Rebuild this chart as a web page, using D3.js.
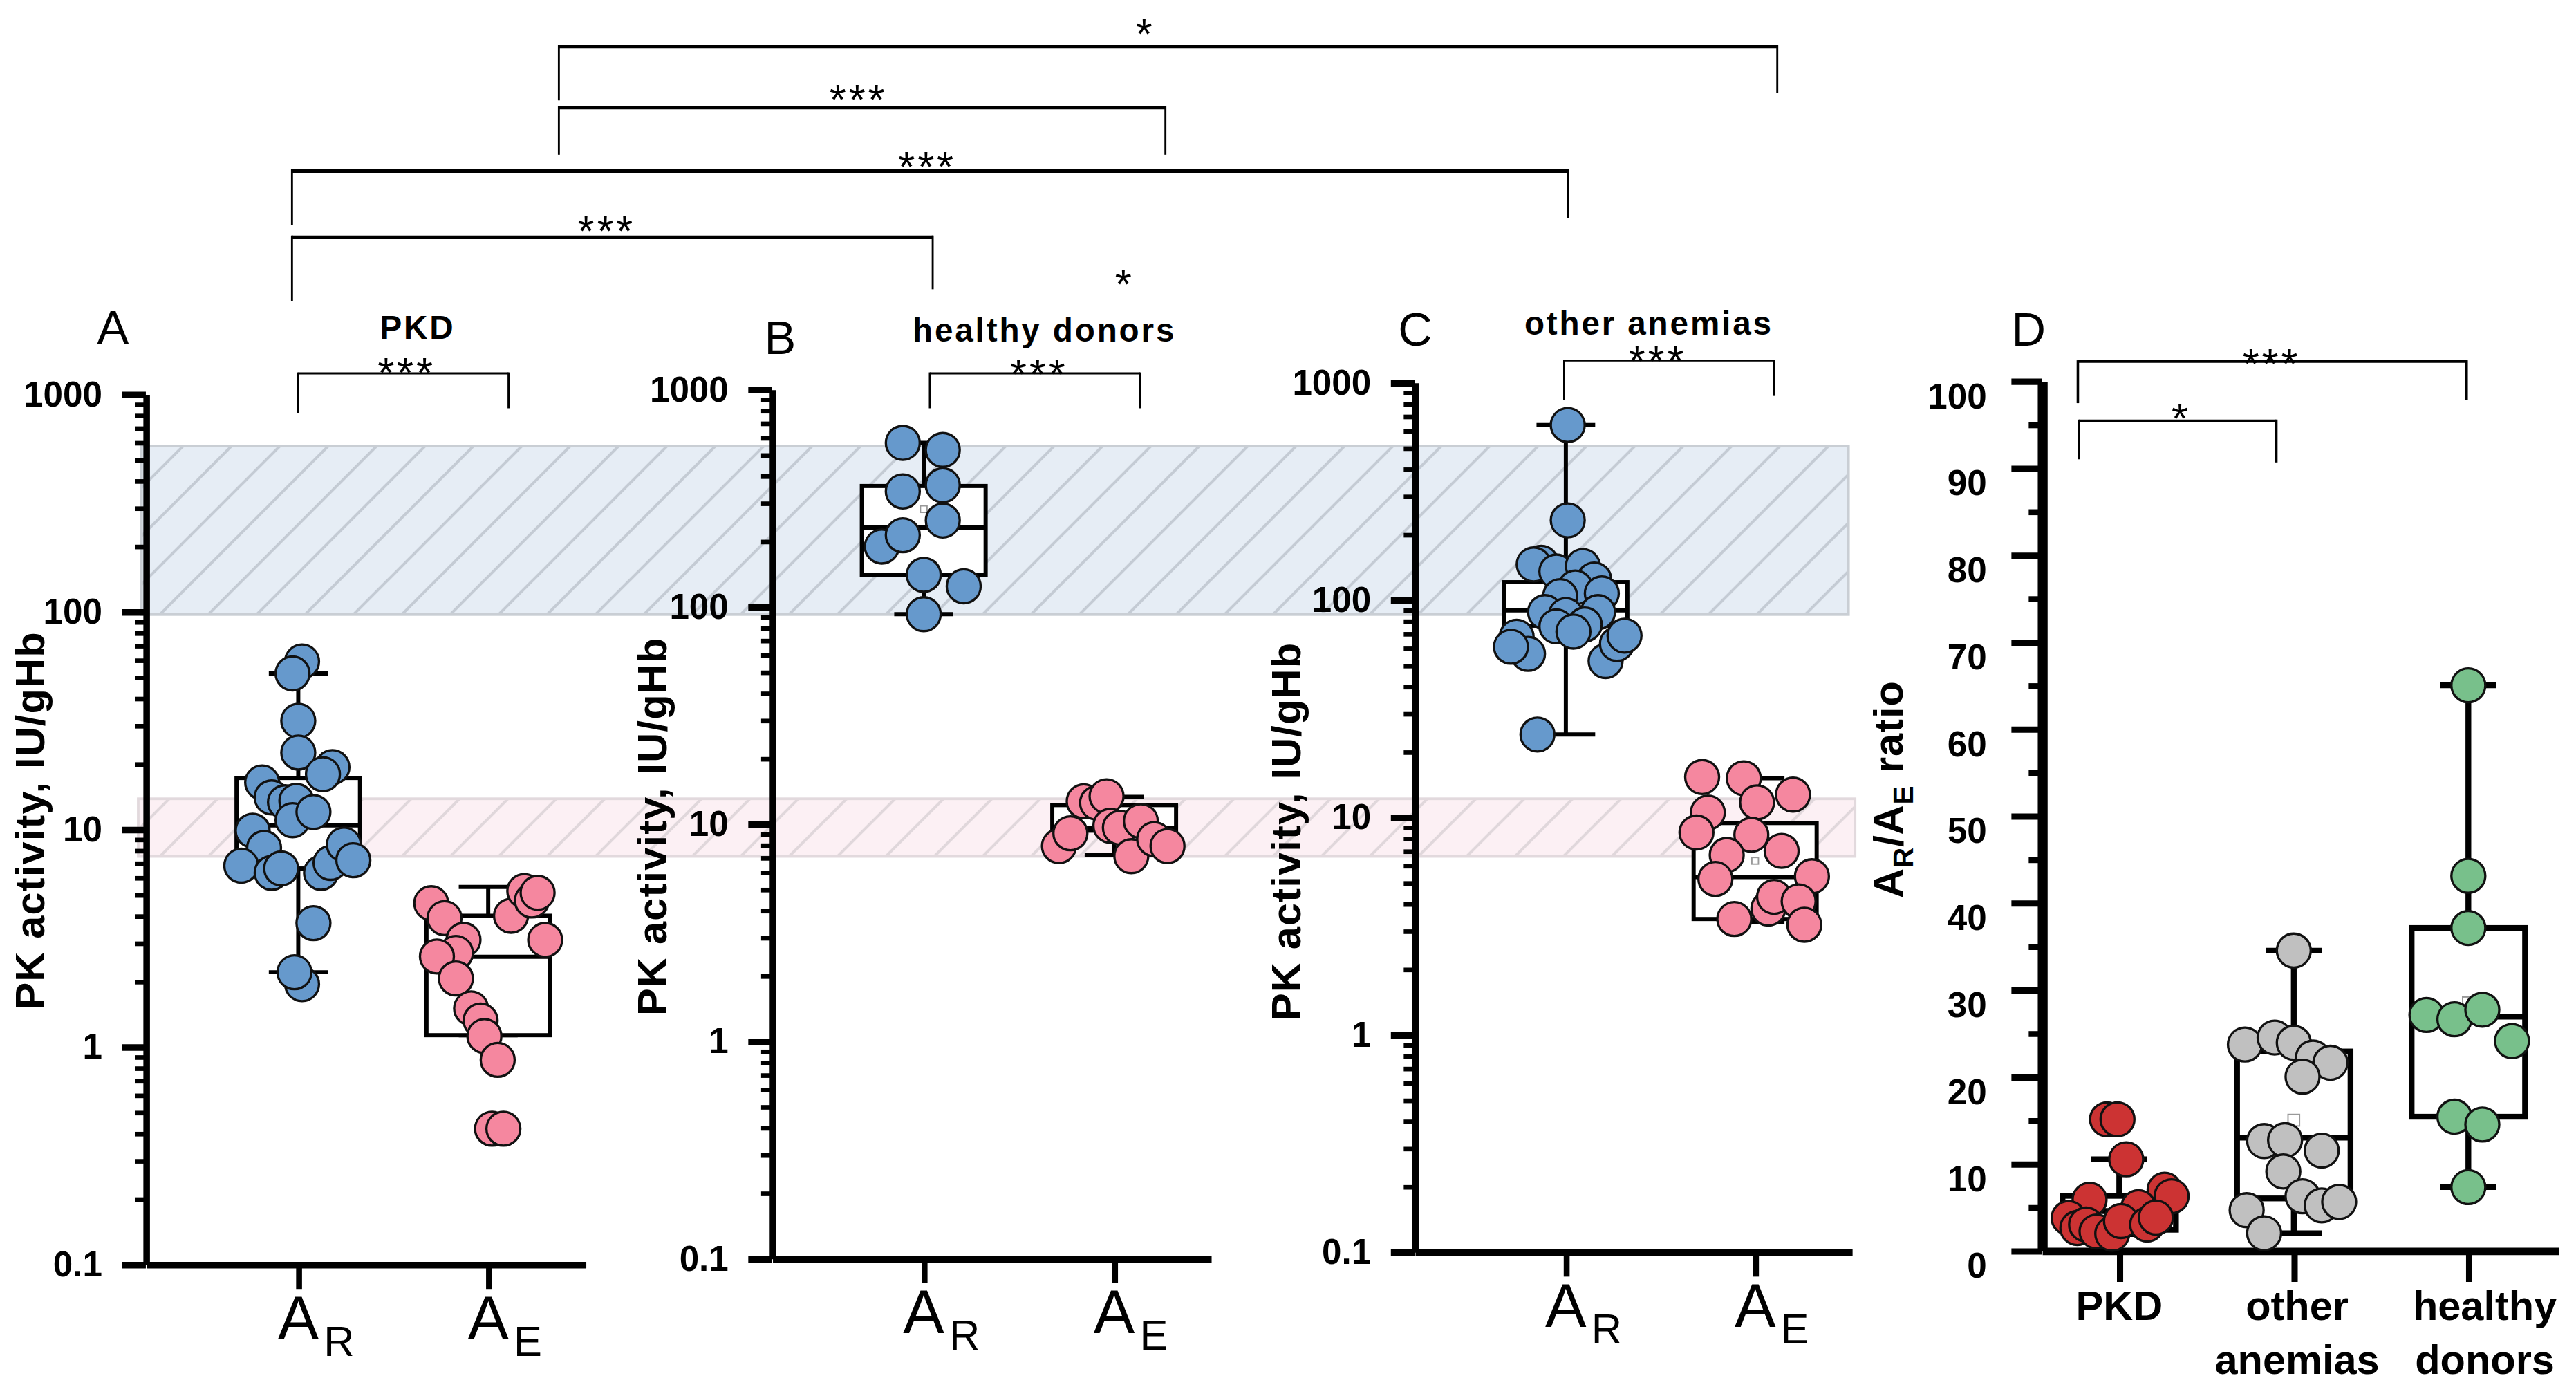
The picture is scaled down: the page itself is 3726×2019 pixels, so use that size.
<!DOCTYPE html>
<meta charset="utf-8">
<script src="https://d3js.org/d3.v7.min.js"></script>
<style>
  body { margin: 0; background: #fff; }
</style>
<div id="chart"></div>
<script>

// ---------------- data ----------------
// each point: [category position (0 = A_R, 1 = A_E, with jitter), PK activity IU/gHb]
var pkdR = [[0.02,59],[-0.03,52],[0.00,31.5],[0.00,22.5],[0.18,19.3],[0.13,17.9],[-0.19,16.4],[-0.14,14],
            [-0.07,13.3],[-0.01,13.5],[-0.03,11],[0.08,12],[-0.24,9.85],[-0.18,8.2],[-0.30,6.8],[-0.14,6.3],
            [-0.09,6.6],[0.12,6.3],[0.17,7.0],[0.24,8.5],[0.29,7.2],[0.08,3.7],[0.02,1.94],[-0.02,2.2]];
var pkdE = [[0.70,4.57],[0.77,3.9],[0.87,3.1],[0.83,2.7],[0.73,2.6],[0.83,2.06],[0.91,1.5],[0.96,1.32],
            [0.98,1.12],[1.05,0.87],[1.02,0.42],[1.08,0.42],[1.12,4.0],[1.19,5.2],[1.23,4.7],[1.26,5.1],[1.30,3.1]];
var hdR  = [[-0.11,567],[0.10,526],[-0.11,339],[0.10,362],[0.10,249],[-0.22,189],[-0.11,213],[0,140],[0.21,124],[0,92.3]];
var hdE  = [[0.71,7.9],[0.77,9.05],[0.84,12.7],[0.91,12.5],[0.96,13.4],[0.98,9.8],[1.03,9.6],[1.14,10.3],
            [1.09,7.1],[1.21,8.5],[1.28,7.9]];
var oaR  = [[0.01,637],[0.01,232],[-0.13,148],[-0.17,145.5],[-0.05,135],[0.09,143],[0.15,124],[0.05,114],
            [-0.03,104],[0.19,107],[-0.11,87.8],[0.00,85],[0.17,87.8],[-0.05,75.5],[0.10,77],[0.04,71.4],
            [-0.26,67.6],[-0.20,56.4],[-0.29,60.8],[0.21,52.3],[0.27,62.7],[0.31,68.4],[-0.15,24.0]];
var oaE  = [[0.72,15.3],[0.94,15.1],[1.01,11.7],[1.20,12.7],[0.75,10.5],[0.69,8.5],[0.98,8.3],[0.85,6.7],
            [1.14,7.0],[0.79,5.2],[1.30,5.35],[1.07,3.8],[1.10,4.3],[1.23,4.1],[0.89,3.4],[1.26,3.2]];

// panel D: A_R/A_E ratio, category 0 = PKD, 1 = other anemias, 2 = healthy donors
var ratioPKD     = [[-0.07,15.1],[-0.01,15.1],[0.04,10.5],[0.26,7.0],[0.30,6.25],[-0.17,5.85],[0.11,5.0],
                    [-0.29,3.75],[-0.24,2.6],[-0.19,3.0],[-0.13,2.2],[-0.04,1.95],[0.01,3.4],[0.16,3.0],[0.21,3.8]];
var ratioOther   = [[1.00,34.5],[0.72,23.7],[0.89,24.5],[1.00,23.9],[1.11,22.2],[1.21,21.6],[1.05,20.0],
                    [0.83,12.6],[0.95,12.7],[1.16,11.5],[0.94,9.1],[1.05,6.25],[1.16,5.2],[1.26,5.6],
                    [0.73,4.65],[0.83,2.0]];
var ratioHealthy = [[2.00,65.0],[2.00,43.1],[2.00,37.1],[1.76,27.1],[1.92,26.6],[2.08,27.7],[2.25,24.1],
                    [1.92,15.4],[2.08,14.5],[2.00,7.3]];

// box plots: [min, q1, median, q3, max]
var pkdBoxR = [2.2, 6.6, 10.4, 17.2, 52];
var pkdBoxE = [1.13, 1.13, 2.59, 4.0, 5.43];
var hdBoxR  = [92.3, 140, 231, 359, 567];
var hdBoxE  = [7.2, 9.3, 9.6, 12.2, 13.3];
var oaBoxR  = [24.0, 76, 89.4, 120.5, 637];
var oaBoxE  = [3.3, 3.4, 5.3, 9.4, 15.1];
var ratioBoxes = [[1.9, 2.4, 4.55, 6.3, 10.5], [2.0, 6.0, 13.0, 22.9, 34.5], [7.3, 15.4, 26.9, 37.1, 65.0]];

// means (shown as small squares where visible)
var hdMeans    = [281, null];
var oaMeans    = [null, 6.3];
var ratioMeans = [null, 15.0, 28.5];

// reference ranges (IU/gHb)
var normalR = [97, 578];
var normalE = [7.5, 13.8];

var logTicks = [0.1, 1, 10, 100, 1000];
var logTickLabels = ["0.1", "1", "10", "100", "1000"];
var ratioTicks = [0, 10, 20, 30, 40, 50, 60, 70, 80, 90, 100];
var ratioMinor = [5, 15, 25, 35, 45, 55, 65, 75, 85, 95];
var ratioCats = [["PKD"], ["other", "anemias"], ["healthy", "donors"]];

// ---------------- layout ----------------
var W = 1565, H = 848;
var FONT = "'Liberation Sans', Arial, Helvetica, sans-serif";
var blue = "#6699cc", pink = "#f5879f", red = "#cc3333", grey = "#c0c0c0", green = "#78c08b";

var layout = {
  A: {ax: 88.6,  top: 239.4, bot: 768,   t: [181.2, 296.6], xEnd: 355.7, letter: [59, 208.7],    title: [253.7, 205.7], ylab: [26.8, 498.5]},
  B: {ax: 469.1, top: 236.5, bot: 764.4, t: [561.2, 676.9], xEnd: 735.6, letter: [464.3, 215],   title: [634.5, 207.4], ylab: [405, 502]},
  C: {ax: 859.5, top: 232.3, bot: 760.5, t: [951.3, 1066.3], xEnd: 1125, letter: [849.4, 209.8], title: [1001.7, 203.4], ylab: [790.2, 505]},
  D: {ax: 1240.5, top: 231.4, bot: 759.7, t: [1287.5, 1393.55], xEnd: 1554.4, letter: [1222, 210.2], ylab: [1156, 479.5]}
};

var svg = d3.select("#chart").append("svg")
    .attr("width", 3726)
    .attr("height", 2019)
    .attr("viewBox", "0 0 " + W + " " + H)
    .style("font-family", FONT);

svg.append("rect").attr("width", W).attr("height", H).attr("fill", "#fff");

// hatch patterns for the reference bands
var defs = svg.append("defs");
function hatch(id, bg, line) {
  var s = 29.4;
  var p = defs.append("pattern").attr("id", id)
      .attr("patternUnits", "userSpaceOnUse")
      .attr("width", s).attr("height", s);
  p.append("rect").attr("width", s).attr("height", s).attr("fill", bg);
  p.append("path")
      .attr("d", "M-4,4 L4,-4 M0," + s + " L" + s + ",0 M" + (s - 4) + "," + (s + 4) + " L" + (s + 4) + "," + (s - 4))
      .attr("stroke", line).attr("stroke-width", 1.7);
}
hatch("hatchBlue", "#e6edf5", "#c4cbd4");
hatch("hatchPink", "#fcf0f4", "#e0d7db");

// scales for every panel
var scales = {};
["A", "B", "C"].forEach(function(k) {
  var L = layout[k];
  scales[k] = {
    x: d3.scaleLinear().domain([0, 1]).range(L.t),
    y: d3.scaleLog().domain([0.1, 1000]).range([L.bot, L.top])
  };
});
scales.D = {
  x: d3.scaleLinear().domain([0, 1]).range(layout.D.t),
  y: d3.scaleLinear().domain([0, 100]).range([layout.D.bot, layout.D.top])
};

// reference bands (one strip across panels A-C, on the panel A scale)
var yA = scales.A.y;
svg.append("rect")
    .attr("x", 86).attr("width", 1123 - 86)
    .attr("y", yA(normalR[1])).attr("height", yA(normalR[0]) - yA(normalR[1]))
    .attr("fill", "url(#hatchBlue)").attr("stroke", "#c9ced4").attr("stroke-width", 1.6);
svg.append("rect")
    .attr("x", 84).attr("width", 1127 - 84)
    .attr("y", yA(normalE[1])).attr("height", yA(normalE[0]) - yA(normalE[1]))
    .attr("fill", "url(#hatchPink)").attr("stroke", "#e2d9dd").attr("stroke-width", 1.6);

// ---------------- helpers ----------------
function styleAxis(g, sw, fs) {
  g.attr("font-family", FONT).attr("font-size", fs).attr("font-weight", "bold");
  g.select(".domain").attr("stroke", "#000").attr("stroke-width", sw);
  g.selectAll(".tick line").attr("stroke", "#000");
  g.selectAll(".tick text").attr("fill", "#000");
}

function drawBox(g, x, y, cx, s, sw, halfW, capHalf) {
  var mn = s[0], q1 = s[1], md = s[2], q3 = s[3], mx = s[4];
  function line(x1, y1, x2, y2) {
    g.append("line").attr("x1", x1).attr("y1", y1).attr("x2", x2).attr("y2", y2)
      .attr("stroke", "#000").attr("stroke-width", sw);
  }
  line(x(cx), y(q3), x(cx), y(mx));
  line(x(cx), y(q1), x(cx), y(mn));
  line(x(cx - capHalf), y(mx), x(cx + capHalf), y(mx));
  line(x(cx - capHalf), y(mn), x(cx + capHalf), y(mn));
  g.append("rect")
      .attr("x", x(cx - halfW)).attr("width", x(cx + halfW) - x(cx - halfW))
      .attr("y", y(q3)).attr("height", y(q1) - y(q3))
      .attr("fill", "#fff").attr("stroke", "#000").attr("stroke-width", sw);
  line(x(cx - halfW), y(md), x(cx + halfW), y(md));
}

function drawMean(g, x, y, cx, v, size) {
  if (v == null) return;
  g.append("rect")
      .attr("x", x(cx) - size / 2).attr("y", y(v) - size / 2)
      .attr("width", size).attr("height", size)
      .attr("fill", "#fff").attr("stroke", "#999").attr("stroke-width", 0.8);
}

function drawPoints(g, x, y, data, color) {
  g.selectAll(null)
    .data(data)
    .join("circle")
      .attr("cx", function(d) { return x(d[0]); })
      .attr("cy", function(d) { return y(d[1]); })
      .attr("r", 10.3)
      .attr("fill", color)
      .attr("stroke", "#111")
      .attr("stroke-width", 1.4);
}

function stars(txt, cx, bottom) {
  // asterisk glyph sits about 0.44em above the baseline
  svg.append("text")
      .attr("x", cx).attr("y", bottom + 11.4)
      .attr("text-anchor", "middle")
      .attr("font-size", 26)
      .attr("letter-spacing", txt.length > 1 ? 1.6 : 0)
      .text(txt);
}

function bracket(x1, x2, y, leg1, leg2, hw, lw) {
  svg.append("line").attr("x1", x1).attr("x2", x2).attr("y1", y).attr("y2", y)
      .attr("stroke", "#000").attr("stroke-width", hw);
  svg.append("line").attr("x1", x1).attr("x2", x1).attr("y1", y - hw / 2).attr("y2", leg1)
      .attr("stroke", "#000").attr("stroke-width", lw);
  svg.append("line").attr("x1", x2).attr("x2", x2).attr("y1", y - hw / 2).attr("y2", leg2)
      .attr("stroke", "#000").attr("stroke-width", lw);
}

// ---------------- panels A, B, C (log scale) ----------------
var logPanels = [
  {key: "A", title: "PKD",            R: pkdR, E: pkdE, boxR: pkdBoxR, boxE: pkdBoxE, means: [null, null]},
  {key: "B", title: "healthy donors", R: hdR,  E: hdE,  boxR: hdBoxR,  boxE: hdBoxE,  means: hdMeans},
  {key: "C", title: "other anemias",  R: oaR,  E: oaE,  boxR: oaBoxR,  boxE: oaBoxE,  means: oaMeans}
];

var minorLog = [];
[0.1, 1, 10, 100].forEach(function(d) {
  for (var k = 2; k < 10; k++) minorLog.push(+(k * d).toPrecision(3));
});

logPanels.forEach(function(p) {
  var L = layout[p.key], x = scales[p.key].x, y = scales[p.key].y;
  var g = svg.append("g");

  // x axis
  var xs = d3.scaleLinear().domain([x.invert(L.ax), x.invert(L.xEnd)]).range([L.ax, L.xEnd]);
  var gx = g.append("g")
      .attr("transform", "translate(0," + L.bot + ")")
      .call(d3.axisBottom(xs).tickValues([0, 1]).tickSize(15).tickSizeOuter(0).tickFormat(function() { return ""; }));
  styleAxis(gx, 4, 20);
  gx.selectAll(".tick line").attr("stroke-width", 3.6);

  // y axis, minor then major ticks
  var gm = g.append("g")
      .attr("transform", "translate(" + L.ax + ",0)")
      .call(d3.axisLeft(y).tickValues(minorLog).tickSize(6.7).tickFormat(function() { return ""; }));
  gm.select(".domain").remove();
  gm.selectAll(".tick line").attr("stroke", "#000").attr("stroke-width", 2.8);

  var gy = g.append("g")
      .attr("transform", "translate(" + L.ax + ",0)")
      .call(d3.axisLeft(y).tickValues(logTicks).tickSize(14.5).tickSizeOuter(0).tickPadding(12)
        .tickFormat(function(d, i) { return logTickLabels[i]; }));
  styleAxis(gy, 4, 21.5);
  gy.selectAll(".tick line").attr("stroke-width", 4);

  // category labels A_R, A_E
  ["R", "E"].forEach(function(sub, i) {
    var t = g.append("text").attr("x", x(i)).attr("y", L.bot + 45.4)
        .attr("text-anchor", "middle").attr("font-size", 37.5).text("A");
    g.append("text").attr("x", x(i) + 15.5).attr("y", L.bot + 55.5)
        .attr("font-size", 25.8).text(sub);
  });

  // boxes, means, points
  drawBox(g, x, y, 0, p.boxR, 2.5, 0.325, 0.155);
  drawBox(g, x, y, 1, p.boxE, 2.5, 0.325, 0.155);
  drawMean(g, x, y, 0, p.means[0], 4);
  drawMean(g, x, y, 1, p.means[1], 4);
  drawPoints(g, x, y, p.R, blue);
  drawPoints(g, x, y, p.E, pink);

  // panel letter, title, y label
  svg.append("text").attr("x", L.letter[0]).attr("y", L.letter[1])
      .attr("font-size", 28.8).text(p.key);
  svg.append("text").attr("x", L.title[0]).attr("y", L.title[1])
      .attr("text-anchor", "middle").attr("font-size", 20).attr("font-weight", "bold")
      .attr("letter-spacing", 1.2).text(p.title);
  svg.append("text")
      .attr("transform", "translate(" + L.ylab[0] + "," + L.ylab[1] + ") rotate(-90)")
      .attr("text-anchor", "middle").attr("font-size", 25).attr("font-weight", "bold")
      .attr("letter-spacing", 0.5)
      .text("PK activity, IU/gHb");
});

// ---------------- panel D (ratio) ----------------
(function() {
  var L = layout.D, x = scales.D.x, y = scales.D.y;
  var g = svg.append("g");

  var xs = d3.scaleLinear().domain([x.invert(L.ax), x.invert(L.xEnd)]).range([L.ax, L.xEnd]);
  var gx = g.append("g")
      .attr("transform", "translate(0," + L.bot + ")")
      .call(d3.axisBottom(xs).tickValues([0, 1, 2]).tickSize(19).tickSizeOuter(0).tickFormat(function() { return ""; }));
  styleAxis(gx, 4.5, 20);
  gx.selectAll(".tick line").attr("stroke-width", 3.8);

  var gm = g.append("g")
      .attr("transform", "translate(" + L.ax + ",0)")
      .call(d3.axisLeft(y).tickValues(ratioMinor).tickSize(8).tickFormat(function() { return ""; }));
  gm.select(".domain").remove();
  gm.selectAll(".tick line").attr("stroke", "#000").attr("stroke-width", 3.6);

  var gy = g.append("g")
      .attr("transform", "translate(" + L.ax + ",0)")
      .call(d3.axisLeft(y).tickValues(ratioTicks).tickSize(18.5).tickSizeOuter(0).tickPadding(15)
        .tickFormat(d3.format("d")));
  styleAxis(gy, 6, 21.5);
  gy.selectAll(".tick line").attr("stroke-width", 3.8);
  gy.selectAll(".tick text").attr("dy", "0.75em");

  var labelShift = [0, 2, 10];
  ratioCats.forEach(function(lines, i) {
    lines.forEach(function(s, j) {
      g.append("text").attr("x", x(i) + labelShift[i]).attr("y", 802 + j * 32.7)
          .attr("text-anchor", "middle").attr("font-size", 25).attr("font-weight", "bold")
          .text(s);
    });
  });

  ratioBoxes.forEach(function(b, i) { drawBox(g, x, y, i, b, 3.5, 0.325, 0.16); });
  ratioMeans.forEach(function(m, i) { drawMean(g, x, y, i, m, 7); });
  drawPoints(g, x, y, ratioPKD, red);
  drawPoints(g, x, y, ratioOther, grey);
  drawPoints(g, x, y, ratioHealthy, green);

  svg.append("text").attr("x", L.letter[0]).attr("y", L.letter[1])
      .attr("font-size", 28.8).text("D");

  var yl = svg.append("text")
      .attr("transform", "translate(" + L.ylab[0] + "," + L.ylab[1] + ") rotate(-90)")
      .attr("text-anchor", "middle").attr("font-size", 25).attr("font-weight", "bold")
      .attr("letter-spacing", 0.4);
  yl.append("tspan").text("A");
  yl.append("tspan").attr("font-size", 17).attr("dy", 6).text("R");
  yl.append("tspan").attr("dy", -6).text("/A");
  yl.append("tspan").attr("font-size", 17).attr("dy", 6).text("E");
  yl.append("tspan").attr("dy", -6).text(" ratio");
})();

// ---------------- significance brackets ----------------
function px(panel, v) { return scales[panel].x(v); }

// within panels
bracket(px("A", 0), px("A", 1.107), 226.8, 251, 248, 1.2, 1.2);   stars("***", 247, 224);
bracket(px("B", 0.032), px("B", 1.136), 226.8, 248, 248, 1.2, 1.2); stars("***", 631.2, 224.5);
bracket(px("C", -0.009), px("C", 1.1), 219, 243, 240.5, 1.2, 1.2); stars("***", 1007, 216.8);
bracket(px("D", -0.237), px("D", 1.99), 219.6, 244.9, 242.9, 1.5, 1.5); stars("***", 1380, 218.5);
bracket(px("D", -0.231), px("D", 0.9), 255.6, 279, 280.9, 1.5, 1.5); stars("*", 1324.3, 251.4);

// between panels
bracket(px("A", -0.033), px("B", 0.047), 144.2, 182.7, 175.7, 2.2, 1.2); stars("***", 368.5, 137.8);
bracket(px("A", -0.033), px("C", 0.011), 103.9, 136.5, 132.7, 2.2, 1.2); stars("***", 563.3, 98.7);
bracket(px("A", 1.372), px("B", 1.269), 65.4, 94, 94, 2.2, 1.2);        stars("***", 521.5, 58);
bracket(px("A", 1.372), px("C", 1.117), 28.4, 61, 56.7, 2.2, 1.2);      stars("*", 695, 18.2);
stars("*", 682.4, 170.1);

</script>
